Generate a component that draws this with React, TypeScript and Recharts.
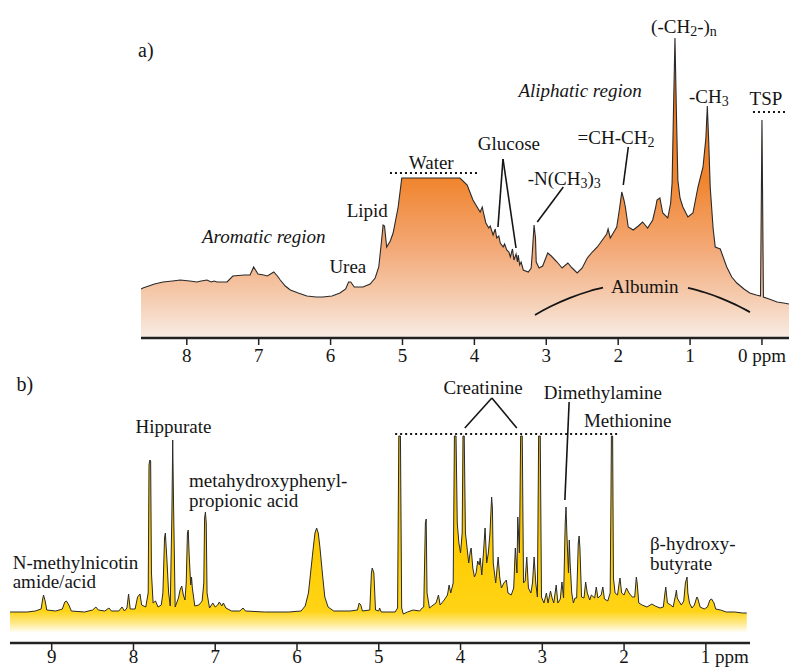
import React from 'react';
import { ComposedChart, Area, Line, XAxis, YAxis, ReferenceLine, ReferenceDot } from 'recharts';

// ---------- Panel a) : blood plasma spectrum ----------
const topShift = [
  8.637, 8.61, 8.45, 8.33, 8.20, 8.09, 7.96, 7.86, 7.80, 7.72,
  7.66, 7.62, 7.58, 7.44, 7.36, 7.20, 7.12, 7.07, 7.01, 6.93,
  6.88, 6.79, 6.74, 6.70, 6.63, 6.56, 6.45, 6.33, 6.20, 6.11,
  5.98, 5.87, 5.79, 5.75, 5.72, 5.67, 5.55, 5.45, 5.38, 5.33,
  5.29, 5.27, 5.25, 5.22, 5.17, 5.13, 5.06, 5.01, 4.20, 4.10,
  4.02, 3.92, 3.89, 3.87, 3.84, 3.80, 3.78, 3.74, 3.71, 3.69,
  3.66, 3.64, 3.60, 3.58, 3.55, 3.52, 3.50, 3.47, 3.45, 3.42,
  3.40, 3.39, 3.37, 3.35, 3.32, 3.25, 3.21, 3.19, 3.17, 3.15,
  3.14, 3.10, 3.05, 2.98, 2.93, 2.85, 2.78, 2.70, 2.64, 2.57,
  2.50, 2.43, 2.36, 2.29, 2.20, 2.16, 2.14, 2.11, 2.06, 2.02,
  1.98, 1.95, 1.92, 1.90, 1.86, 1.79, 1.72, 1.66, 1.59, 1.52,
  1.48, 1.46, 1.42, 1.38, 1.31, 1.27, 1.25, 1.23, 1.21, 1.19,
  1.17, 1.14, 1.10, 1.03, 0.96, 0.89, 0.82, 0.78, 0.76, 0.74,
  0.72, 0.68, 0.65, 0.58, 0.49, 0.42, 0.35, 0.25, 0.17, 0.08,
  0.02, 0.00, -0.02, -0.10, -0.21, -0.30, -0.376,
];
const topIntensity = [
  49, 50, 54, 56, 57, 58, 57, 56, 57, 58,
  56, 57, 56, 56, 62, 63, 63, 71, 64, 63,
  62, 66, 62, 58, 52, 48, 45, 42, 41, 41,
  42, 45, 49, 56, 56, 51, 51, 54, 60, 71,
  98, 113, 112, 91, 97, 105, 131, 160, 160, 153,
  138, 126, 131, 124, 115, 110, 112, 103, 109, 100,
  102, 95, 91, 94, 88, 86, 81, 89, 78, 84,
  76, 83, 73, 76, 68, 66, 70, 90, 113, 100,
  76, 70, 72, 85, 82, 76, 70, 75, 70, 65,
  70, 80, 86, 91, 100, 104, 109, 100, 106, 111,
  130, 146, 138, 131, 111, 108, 112, 116, 110, 118,
  130, 138, 140, 125, 120, 135, 155, 230, 300, 225,
  158, 140, 131, 121, 125, 151, 171, 200, 232, 195,
  151, 110, 91, 89, 71, 61, 55, 49, 45, 43,
  42, 218, 41, 39, 36, 35, 34,
];
const albuminLeftShift = [3.157, 2.949, 2.670, 2.392, 2.211];
const albuminLeftLevel = [23, 31.2, 40.1, 47, 50.3];
const albuminRightShift = [1.029, 0.793, 0.584, 0.376, 0.167];
const albuminRightLevel = [50.1, 45.5, 40.2, 33.6, 25.9];
const topTicks = [8, 7, 6, 5, 4, 3, 2, 1, 0];

// ---------- Panel b) : urine spectrum ----------
const bottomShift = [
  9.51, 9.30, 9.20, 9.13, 9.11, 9.10, 9.08, 9.06, 8.95, 8.87,
  8.84, 8.82, 8.79, 8.76, 8.60, 8.50, 8.46, 8.43, 8.35, 8.30,
  8.27, 8.18, 8.14, 8.11, 8.08, 8.06, 8.04, 7.98, 7.95, 7.92,
  7.90, 7.85, 7.82, 7.81, 7.80, 7.79, 7.78, 7.76, 7.73, 7.70,
  7.66, 7.64, 7.62, 7.61, 7.59, 7.57, 7.55, 7.53, 7.52, 7.51,
  7.49, 7.45, 7.43, 7.41, 7.39, 7.37, 7.355, 7.34, 7.33, 7.32,
  7.30, 7.29, 7.28, 7.25, 7.20, 7.16, 7.14, 7.13, 7.12, 7.11,
  7.10, 7.07, 7.03, 7.00, 6.97, 6.95, 6.92, 6.90, 6.87, 6.80,
  6.70, 6.66, 6.63, 6.40, 6.10, 5.95, 5.90, 5.86, 5.83, 5.80,
  5.78, 5.76, 5.74, 5.72, 5.69, 5.66, 5.62, 5.55, 5.35, 5.26,
  5.24, 5.22, 5.20, 5.11, 5.09, 5.08, 5.06, 5.04, 5.00, 4.99,
  4.97, 4.80, 4.77, 4.755, 4.735, 4.72, 4.70, 4.65, 4.58, 4.50,
  4.47, 4.45, 4.43, 4.42, 4.41, 4.38, 4.35, 4.30, 4.27, 4.25,
  4.20, 4.16, 4.14, 4.12, 4.09, 4.075, 4.055, 4.04, 4.02, 4.00,
  3.98, 3.97, 3.955, 3.94, 3.92, 3.90, 3.88, 3.87, 3.85, 3.83,
  3.81, 3.79, 3.77, 3.76, 3.74, 3.72, 3.70, 3.68, 3.66, 3.64,
  3.62, 3.61, 3.60, 3.57, 3.54, 3.52, 3.50, 3.47, 3.44, 3.42,
  3.38, 3.35, 3.33, 3.31, 3.30, 3.28, 3.265, 3.245, 3.23, 3.21,
  3.19, 3.17, 3.14, 3.12, 3.10, 3.08, 3.06, 3.045, 3.025, 3.01,
  2.98, 2.95, 2.93, 2.90, 2.88, 2.86, 2.83, 2.81, 2.78, 2.76,
  2.74, 2.72, 2.71, 2.70, 2.68, 2.67, 2.66, 2.64, 2.62, 2.60,
  2.58, 2.56, 2.55, 2.54, 2.53, 2.52, 2.49, 2.47, 2.45, 2.42,
  2.40, 2.36, 2.34, 2.32, 2.28, 2.26, 2.24, 2.20, 2.17, 2.16,
  2.155, 2.14, 2.13, 2.11, 2.08, 2.06, 2.05, 2.03, 2.00, 1.97,
  1.94, 1.90, 1.87, 1.85, 1.84, 1.82, 1.78, 1.72, 1.66, 1.62,
  1.56, 1.52, 1.50, 1.49, 1.47, 1.43, 1.40, 1.37, 1.36, 1.35,
  1.33, 1.30, 1.27, 1.25, 1.23, 1.22, 1.20, 1.17, 1.14, 1.11,
  1.10, 1.07, 1.02, 0.98, 0.95, 0.93, 0.90, 0.88, 0.82, 0.75,
  0.65, 0.55, 0.50,
];
const bottomIntensity = [
  21, 21, 22, 24, 34, 38, 32, 23, 22, 24,
  31, 32, 28, 22, 21, 23, 26, 23, 22, 25,
  22, 22, 26, 22, 25, 39, 24, 24, 36, 39,
  28, 26, 40, 168, 173, 172, 60, 30, 32, 26,
  28, 40, 95, 100, 72, 40, 27, 120, 193, 130,
  26, 35, 43, 47, 38, 33, 50, 100, 103, 80,
  48, 56, 45, 27, 28, 32, 50, 115, 121, 110,
  40, 25, 30, 26, 28, 31, 27, 30, 25, 22,
  22, 25, 22, 21, 21, 22, 27, 40, 63, 86,
  100, 105, 100, 86, 60, 36, 26, 22, 22, 23,
  30, 28, 22, 23, 60, 65, 60, 23, 22, 25,
  21, 21, 25, 197, 197, 25, 19, 21, 23, 22,
  25, 26, 110, 114, 40, 25, 27, 30, 38, 28,
  33, 38, 48, 40, 50, 197, 197, 110, 90, 80,
  100, 197, 197, 100, 85, 70, 82, 85, 65, 56,
  60, 72, 68, 75, 58, 80, 105, 70, 80, 100,
  136, 125, 70, 50, 76, 55, 45, 50, 53, 40,
  38, 45, 85, 60, 116, 80, 197, 197, 50, 52,
  76, 45, 40, 50, 76, 50, 36, 197, 197, 36,
  30, 40, 30, 42, 35, 30, 48, 30, 34, 51,
  35, 110, 126, 100, 60, 93, 70, 40, 30, 35,
  35, 90, 97, 85, 60, 36, 35, 51, 40, 33,
  38, 35, 46, 35, 38, 46, 34, 32, 40, 140,
  197, 197, 55, 40, 38, 50, 55, 40, 38, 45,
  40, 36, 36, 56, 50, 30, 28, 26, 29, 27,
  25, 26, 40, 46, 30, 28, 26, 38, 43, 35,
  32, 28, 32, 50, 56, 40, 30, 25, 28, 36,
  35, 26, 24, 26, 33, 34, 30, 24, 23, 21,
  21, 20, 20,
];
const bottomTicks = [9, 8, 7, 6, 5, 4, 3, 2, 1];

const zip = (xs: number[], ys: number[]) =>
  xs.slice(0, Math.min(xs.length, ys.length)).map((ppm, i) => ({ ppm, v: ys[i] }));

const topData = zip(topShift, topIntensity);
const albuminLeft = zip(albuminLeftShift, albuminLeftLevel);
const albuminRight = zip(albuminRightShift, albuminRightLevel);
const bottomData = zip(bottomShift, bottomIntensity);

const SERIF = "'Liberation Serif', 'Times New Roman', Times, serif";
const INK = '#151515';

// A label made of runs; runs prefixed with "_" are drawn as subscripts.
function runs(parts: string[]) {
  let sub = false;
  return parts.map((p, i) => {
    const isSub = p.startsWith('_');
    const text = isSub ? p.slice(1) : p;
    const dy = isSub && !sub ? 5 : !isSub && sub ? -5 : 0;
    sub = isSub;
    return (
      <tspan key={i} dy={dy} fontSize={isSub ? 14 : undefined}>
        {text}
      </tspan>
    );
  });
}

function note(
  key: string,
  x: number,
  y: number,
  content: React.ReactNode,
  opts: { anchor?: 'start' | 'middle' | 'end'; italic?: boolean; size?: number } = {}
) {
  const { anchor = 'middle', italic = false, size = 19 } = opts;
  return (
    <ReferenceDot
      key={key}
      x={x}
      y={y}
      r={0}
      ifOverflow="visible"
      shape={(p: any) => (
        <text
          x={p.cx}
          y={p.cy}
          textAnchor={anchor}
          dominantBaseline="central"
          fontFamily={SERIF}
          fontSize={size}
          fontStyle={italic ? 'italic' : 'normal'}
          fill={INK}
        >
          {content}
        </text>
      )}
    />
  );
}

function seg(key: string, x1: number, y1: number, x2: number, y2: number, dotted = false) {
  return (
    <ReferenceLine
      key={key}
      segment={[{ x: x1, y: y1 }, { x: x2, y: y2 }]}
      stroke={INK}
      strokeWidth={dotted ? 2 : 1.6}
      strokeDasharray={dotted ? '2 3' : undefined}
      ifOverflow="visible"
    />
  );
}

function makeTick(lastValue: number, gap: number, centeredLast: boolean) {
  return (props: any) => {
    const { x, y, payload } = props;
    const val = payload.value;
    const isLast = val === lastValue;
    const label = isLast ? `${val} ppm` : `${val}`;
    const startMode = isLast && !centeredLast;
    return (
      <text
        x={startMode ? x - 5 : x}
        y={y + gap}
        textAnchor={startMode ? 'start' : 'middle'}
        fontFamily={SERIF}
        fontSize={19}
        fill={INK}
      >
        {label}
      </text>
    );
  };
}

export default function App() {
  return (
    <div
      style={{
        position: 'absolute',
        left: 0,
        top: 0,
        width: 789,
        height: 670,
        background: '#ffffff',
        overflow: 'hidden',
      }}
    >
      <div style={{ position: 'absolute', left: 0, top: 0 }}>
        <ComposedChart width={789} height={370} margin={{ top: 18, right: 0, bottom: 0, left: 141 }}>
          <defs>
            <linearGradient id="plasmaFill" x1="0" y1="0" x2="0" y2="1">
              <stop offset="0" stopColor="#ED7115" />
              <stop offset="0.47" stopColor="#F0852E" />
              <stop offset="0.7" stopColor="#F3A876" />
              <stop offset="0.87" stopColor="#F5CDB1" />
              <stop offset="1" stopColor="#F8ECE4" />
            </linearGradient>
          </defs>
          <XAxis
            dataKey="ppm"
            type="number"
            domain={[-0.376, 8.637]}
            reversed
            allowDataOverflow
            ticks={topTicks}
            interval={0}
            height={32}
            tickSize={7}
            tickMargin={2}
            axisLine={{ stroke: '#222', strokeWidth: 2.5 }}
            tickLine={{ stroke: '#222', strokeWidth: 1.5 }}
            tick={makeTick(0, 15, true)}
          />
          <YAxis hide type="number" domain={[0, 320]} allowDataOverflow />
          <Area
            data={topData}
            dataKey="v"
            type="linear"
            stroke="#2a2a2a"
            strokeWidth={1.1}
            fill="url(#plasmaFill)"
            fillOpacity={1}
            baseValue={0}
            dot={false}
            activeDot={false}
            isAnimationActive={false}
          />
          <Line data={albuminLeft} dataKey="v" type="monotone" stroke={INK} strokeWidth={1.8} dot={false} activeDot={false} isAnimationActive={false} />
          <Line data={albuminRight} dataKey="v" type="monotone" stroke={INK} strokeWidth={1.8} dot={false} activeDot={false} isAnimationActive={false} />

          {seg('waterDots', 5.174, 165, 3.95, 165, true)}
          {seg('tspDots', 0.125, 226, -0.32, 226, true)}
          {seg('glc1', 3.602, 179, 3.672, 111)}
          {seg('glc2', 3.602, 179, 3.421, 90)}
          {seg('nme', 2.763, 151, 3.125, 116)}
          {seg('chch', 1.859, 191, 1.929, 153)}

          {note('a', 8.57, 288, 'a)', { size: 20 })}
          {note('arom', 6.93, 102, 'Aromatic region', { italic: true })}
          {note('urea', 5.76, 72, 'Urea')}
          {note('lipid', 5.49, 128, 'Lipid')}
          {note('water', 4.6, 176, 'Water')}
          {note('glucose', 3.52, 195, 'Glucose')}
          {note('nme3', 2.75, 160, runs(['-N(CH', '_3', ')', '_3']))}
          {note('chch2', 2.03, 201, runs(['=CH-CH', '_2']))}
          {note('ch2n', 1.085, 312, runs(['(-CH', '_2', '-)', '_n']))}
          {note('ch3', 0.74, 242, runs(['-CH', '_3']))}
          {note('tsp', -0.056, 240, 'TSP')}
          {note('aliph', 2.53, 248, 'Aliphatic region', { italic: true })}
          {note('albumin', 1.63, 52, 'Albumin')}
        </ComposedChart>
      </div>

      <div style={{ position: 'absolute', left: 0, top: 370 }}>
        <ComposedChart width={789} height={300} margin={{ top: 63, right: 39, bottom: 0, left: 10 }}>
          <defs>
            <linearGradient id="urineFill" x1="0" y1="0" x2="0" y2="1">
              <stop offset="0" stopColor="#E2B000" />
              <stop offset="0.55" stopColor="#FFCB00" />
              <stop offset="0.89" stopColor="#FFD416" />
              <stop offset="0.95" stopColor="#FFE98A" />
              <stop offset="1" stopColor="#FFFFFF" />
            </linearGradient>
          </defs>
          <XAxis
            dataKey="ppm"
            type="number"
            domain={[0.46, 9.51]}
            reversed
            allowDataOverflow
            ticks={bottomTicks}
            interval={0}
            height={27}
            tickSize={7}
            tickMargin={2}
            axisLine={{ stroke: '#222', strokeWidth: 2.5 }}
            tickLine={{ stroke: '#222', strokeWidth: 1.5 }}
            tick={makeTick(1, 11, false)}
          />
          <YAxis hide type="number" domain={[-10, 200]} allowDataOverflow />
          <Area
            data={bottomData}
            dataKey="v"
            type="linear"
            stroke="#2a2a2a"
            strokeWidth={1}
            fill="url(#urineFill)"
            fillOpacity={1}
            baseValue={0}
            dot={false}
            activeDot={false}
            isAnimationActive={false}
          />

          {seg('trunc', 4.8, 199, 2.077, 199, true)}
          {seg('cre1', 3.617, 235, 3.948, 205)}
          {seg('cre2', 3.617, 235, 3.312, 205)}
          {seg('dma', 2.672, 231, 2.724, 133)}

          {note('b', 9.33, 249, 'b)', { size: 20 })}
          {note('hipp', 7.51, 207, 'Hippurate')}
          {note('nm1', 9.477, 71, 'N-methylnicotin', { anchor: 'start' })}
          {note('nm2', 9.477, 52, 'amide/acid', { anchor: 'start' })}
          {note('mh1', 7.32, 153, 'metahydroxyphenyl-', { anchor: 'start' })}
          {note('mh2', 7.32, 133, 'propionic acid', { anchor: 'start' })}
          {note('crea', 3.725, 246, 'Creatinine')}
          {note('dmaT', 2.26, 241, 'Dimethylamine')}
          {note('meth', 1.955, 213, 'Methionine')}
          {note('bh1', 1.684, 90, '\u03B2-hydroxy-', { anchor: 'start' })}
          {note('bh2', 1.684, 70, 'butyrate', { anchor: 'start' })}
        </ComposedChart>
      </div>
    </div>
  );
}
